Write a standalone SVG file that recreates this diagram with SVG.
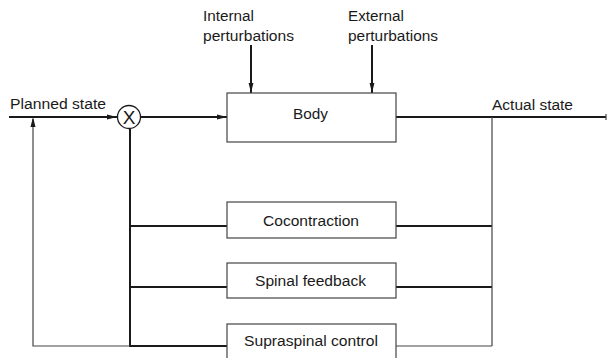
<svg xmlns="http://www.w3.org/2000/svg" width="607" height="358" viewBox="0 0 607 358">
<style>
text{font-family:"Liberation Sans",Arial,sans-serif;font-size:15.5px;fill:#1a1a1a}
.box{fill:#fff;stroke:#444;stroke-width:1.2}
.thick{stroke:#1a1a1a;stroke-width:2;fill:none}
.thin{stroke:#444;stroke-width:1.2;fill:none}
</style>
<defs>
<marker id="ah" viewBox="0 0 10 6" refX="10" refY="3" markerWidth="10" markerHeight="6" markerUnits="userSpaceOnUse" orient="auto">
<path d="M0,0.6 L10,3 L0,5.4 Z" fill="#1a1a1a"/>
</marker>
</defs>
<rect width="607" height="358" fill="#fff"/>
<g id="connectors">
<line class="thick" x1="9" y1="117" x2="117" y2="117" marker-end="url(#ah)"/>
<line class="thick" x1="141" y1="117" x2="227" y2="117" marker-end="url(#ah)"/>
<line class="thick" x1="251" y1="45" x2="251" y2="93" marker-end="url(#ah)"/>
<line class="thick" x1="372" y1="45" x2="372" y2="93" marker-end="url(#ah)"/>
<line class="thick" x1="396" y1="117" x2="606" y2="117"/>
<line class="thin" x1="606" y1="114" x2="606" y2="120"/>
<line class="thick" x1="130" y1="129" x2="130" y2="347"/>
<line class="thick" x1="130" y1="226" x2="227" y2="226"/>
<line class="thick" x1="130" y1="287" x2="227" y2="287"/>
<line class="thick" x1="130" y1="346" x2="227" y2="346"/>
<line class="thick" x1="396" y1="226" x2="492" y2="226"/>
<line class="thick" x1="396" y1="287" x2="492" y2="287"/>
<line class="thin" x1="396" y1="346" x2="492" y2="346"/>
<line class="thin" x1="492" y1="117" x2="492" y2="346"/>
<polyline class="thin" points="130,346 33,346 33,119"/>
<path d="M30.5,127 L33,117 L35.5,127 Z" fill="#1a1a1a"/>
</g>
<g id="sum">
<circle cx="129" cy="117" r="11.5" fill="#fff" stroke="#1a1a1a" stroke-width="1.3"/>
<text x="129" y="124" text-anchor="middle" style="font-size:19px">X</text>
</g>
<g id="body">
<rect class="box" x="227" y="93" width="169" height="49"/>
<text x="293" y="119" textLength="35" lengthAdjust="spacingAndGlyphs">Body</text>
</g>
<g id="cocontraction">
<rect class="box" x="227" y="202" width="169" height="36"/>
<text x="263" y="226" textLength="96" lengthAdjust="spacingAndGlyphs">Cocontraction</text>
</g>
<g id="spinal">
<rect class="box" x="227" y="263" width="169" height="35"/>
<text x="255" y="286" textLength="111" lengthAdjust="spacingAndGlyphs">Spinal feedback</text>
</g>
<g id="supraspinal">
<rect class="box" x="227" y="324" width="169" height="40"/>
<text x="244" y="346" textLength="134" lengthAdjust="spacingAndGlyphs">Supraspinal control</text>
</g>
<g id="labels">
<text x="10" y="109" textLength="96" lengthAdjust="spacingAndGlyphs">Planned state</text>
<text x="492" y="110" textLength="81" lengthAdjust="spacingAndGlyphs">Actual state</text>
<text x="203" y="21" textLength="51" lengthAdjust="spacingAndGlyphs">Internal</text>
<text x="203" y="41" textLength="91" lengthAdjust="spacingAndGlyphs">perturbations</text>
<text x="348" y="21" textLength="56" lengthAdjust="spacingAndGlyphs">External</text>
<text x="348" y="41" textLength="90" lengthAdjust="spacingAndGlyphs">perturbations</text>
</g>
</svg>
